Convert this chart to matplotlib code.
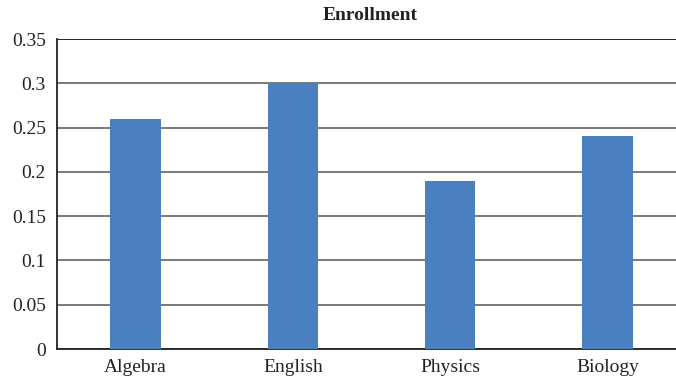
import matplotlib
matplotlib.use("Agg")
import matplotlib.pyplot as plt

categories = ["Algebra", "English", "Physics", "Biology"]
values = [0.26, 0.30, 0.19, 0.24]
yticks = [0, 0.05, 0.1, 0.15, 0.2, 0.25, 0.3, 0.35]
ytick_labels = ["0", "0.05", "0.1", "0.15", "0.2", "0.25", "0.3", "0.35"]

plt.rcParams['font.family'] = ['Liberation Serif', 'DejaVu Serif']

fig = plt.figure(figsize=(6.76, 3.79), dpi=100)
W, H = 676, 379
left, right, top, bottom = 57, 686, 39, 349
ax = fig.add_axes([left / W, 1 - bottom / H, (right - left) / W, (bottom - top) / H])

x = range(len(categories))
ax.bar(x, values, width=0.32, color="#4a80c0", zorder=3)
ax.set_xlim(-0.5, len(categories) - 0.5)
ax.set_ylim(0, 0.35)
ax.set_yticks(yticks)
ax.set_yticklabels(ytick_labels)
ax.set_xticks(list(x))
ax.set_xticklabels(categories)
ax.tick_params(axis='both', length=0, labelsize=14, colors="#222222")
ax.tick_params(axis='y', pad=8)
ax.tick_params(axis='x', pad=7)

ax.yaxis.grid(True, color="#6e6e6e", linewidth=1.3, zorder=0)
for s in ["top", "right"]:
    ax.spines[s].set_visible(False)
ax.spines["left"].set_color("#222222")
ax.spines["bottom"].set_color("#222222")
ax.spines["left"].set_linewidth(1.3)
ax.spines["bottom"].set_linewidth(1.3)
ax.axhline(0.35, color="#222222", linewidth=1.3, zorder=2)

fig.text(370 / W, 1 - 15 / H, "Enrollment", ha="center", va="center",
         fontsize=14, fontweight="bold", color="#222222")

fig.savefig("out.png", dpi=100)
